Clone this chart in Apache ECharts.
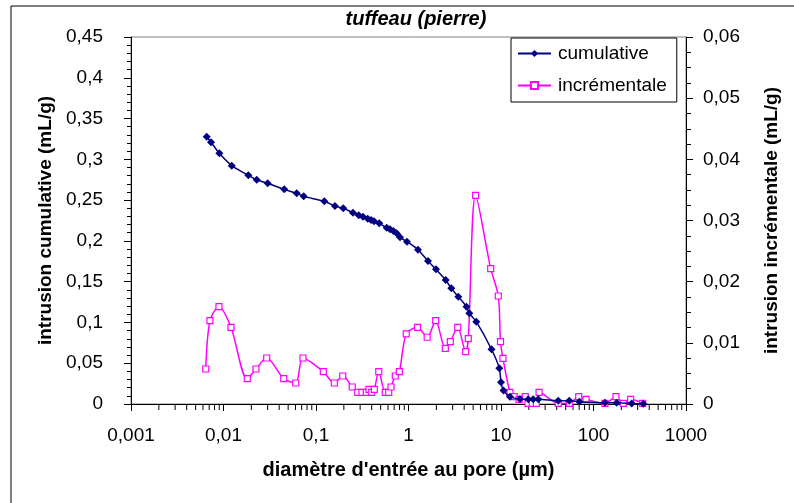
<!DOCTYPE html>
<html>
<head>
<meta charset="utf-8">
<script src="https://cdn.jsdelivr.net/npm/echarts@6/dist/echarts.min.js"></script>
<style>html,body{margin:0;padding:0;background:#fff;}#c{width:794px;height:503px;}</style>
</head>
<body>
<div id="c"></div>
<script>
// Diameters (µm) and cumulative intrusion (mL/g)
var cumDiam = [0.00658,0.00733,0.00902,0.01228,0.01854,0.02286,0.03006,0.04539,0.0618,0.0736,0.1230,0.1603,0.1972,0.251,0.290,0.322,0.362,0.394,0.424,0.483,0.581,0.631,0.686,0.745,0.809,0.964,1.267,1.625,1.983,2.523,2.902,3.453,4.236,4.543,5.41,7.89,9.59,10.0,10.64,12.5,16.0,19.7,22.3,25.3,41.6,54.7,70.2,133,178,259,345];
var cumVal = [0.3277,0.3209,0.3074,0.2922,0.2804,0.2750,0.2706,0.2632,0.2583,0.2546,0.2485,0.2427,0.2399,0.2345,0.2313,0.2296,0.2272,0.2256,0.2240,0.2215,0.2161,0.2142,0.2121,0.2093,0.2044,0.1990,0.1892,0.1753,0.1651,0.1520,0.1418,0.1316,0.1193,0.1112,0.1009,0.0671,0.0438,0.0266,0.0166,0.0090,0.0061,0.0058,0.0058,0.0058,0.0040,0.0040,0.0028,0.0016,0.0016,0.0005,0.0002];
// Diameters (µm) and incremental intrusion (mL/g)
var incDiam = [0.00643,0.00714,0.00893,0.01205,0.01807,0.02244,0.02931,0.04477,0.0604,0.0723,0.1200,0.1578,0.1946,0.2466,0.2825,0.314,0.350,0.374,0.400,0.427,0.477,0.561,0.611,0.647,0.720,0.796,0.946,1.250,1.592,1.967,2.500,2.832,3.404,4.153,4.43,5.32,7.74,9.35,9.88,10.5,12.5,13.9,15.7,18.3,19.6,21.8,24.1,25.8,41.6,54.7,69.2,83.0,133,175,210,252,340];
var incVal = [0.00572,0.01362,0.01591,0.01254,0.00414,0.00572,0.00752,0.00414,0.00343,0.00752,0.00528,0.00343,0.00458,0.00278,0.00191,0.00191,0.00191,0.0024,0.00191,0.0024,0.00528,0.00191,0.00191,0.00278,0.00458,0.00528,0.01145,0.01254,0.01091,0.01362,0.00911,0.01019,0.01254,0.00855,0.01068,0.03412,0.02212,0.01766,0.01019,0.00747,0.00191,0.00119,0.00077,0.00119,0.0001,0.0001,0.0001,0.00191,0.0001,0.0001,0.00119,0.00077,0.0001,0.00119,0.0001,0.00077,0.0001];
// Minor tick positions on the log x axis
var xMinorTicks = [];
[0.001,0.01,0.1,1,10,100].forEach(function(b){for(var k=2;k<=9;k++){xMinorTicks.push(+(b*k).toPrecision(6));}});

var titleText = 'tuffeau (pierre)';
var xName = "diamètre d'entrée au pore (µm)";
var yLeftName = 'intrusion cumulative (mL/g)';
var yRightName = 'intrusion incrémentale (mL/g)';
var seriesNames = ['cumulative','incrémentale'];

function fmt(v){ return String(+Number(v).toPrecision(6)).replace('.', ','); }
function pairs(a,b){ return a.map(function(x,i){return [x,b[i]];}); }

var FONT = 'Liberation Sans, Arial, sans-serif';
var chart = echarts.init(document.getElementById('c'), null, {renderer:'canvas'});
chart.setOption({
  animation:false,
  backgroundColor:'#fff',
  title:{text:titleText,left:411,textAlign:'center',top:4,textStyle:{fontFamily:FONT,fontSize:20,fontWeight:'bold',fontStyle:'italic',color:'#000'}},
  grid:{left:131,right:108,top:37,bottom:99,show:true,borderColor:'#808080',borderWidth:1,backgroundColor:'#fff'},
  legend:{
    data:seriesNames,orient:'vertical',left:511,top:38,
    backgroundColor:'#fff',borderColor:'#000',borderWidth:1,borderRadius:0,
    padding:[6,10,7,6],itemWidth:33,itemHeight:9,itemGap:13,
    textStyle:{fontFamily:FONT,fontSize:19,color:'#000',padding:[0,0,0,2]}
  },
  xAxis:{
    type:'log',logBase:10,min:0.001,max:1000,
    name:xName,nameLocation:'middle',nameGap:56,
    nameTextStyle:{fontFamily:FONT,fontSize:20,fontWeight:'bold',color:'#000'},
    axisLine:{lineStyle:{color:'#000',width:1}},
    axisTick:{show:true,length:7,lineStyle:{color:'#000'}},
    axisLabel:{fontFamily:FONT,fontSize:19,color:'#000',margin:22,formatter:fmt},
    splitLine:{show:false}
  },
  yAxis:[{
    type:'value',min:0,max:0.45,interval:0.05,position:'left',
    name:yLeftName,nameLocation:'middle',nameGap:76,
    nameTextStyle:{fontFamily:FONT,fontSize:19,fontWeight:'bold',color:'#000'},
    axisLine:{show:true,lineStyle:{color:'#000'}},
    axisTick:{show:true,length:7,lineStyle:{color:'#000'}},
    minorTick:{show:true,splitNumber:5,length:4,lineStyle:{color:'#000'}},
    axisLabel:{fontFamily:FONT,fontSize:19,color:'#000',margin:28,formatter:fmt},
    splitLine:{show:false}
  },{
    type:'value',min:0,max:0.06,interval:0.01,position:'right',
    name:yRightName,nameLocation:'middle',nameGap:76,
    nameTextStyle:{fontFamily:FONT,fontSize:19,fontWeight:'bold',color:'#000'},
    axisLine:{show:true,lineStyle:{color:'#000'}},
    axisTick:{show:true,length:7,lineStyle:{color:'#000'}},
    minorTick:{show:true,splitNumber:4,length:5,lineStyle:{color:'#000'}},
    axisLabel:{fontFamily:FONT,fontSize:19,color:'#000',margin:17,formatter:fmt},
    splitLine:{show:false}
  }],
  graphic:[{type:'rect',shape:{x:11,y:6,width:800,height:520},style:{fill:'none',stroke:'#000',lineWidth:1},silent:true,z:-1}],
  series:[{
    name:seriesNames[0],type:'line',yAxisIndex:0,data:pairs(cumDiam,cumVal),
    smooth:0.3,symbol:'diamond',symbolSize:8,
    lineStyle:{color:'#000080',width:1.5},itemStyle:{color:'#000080'},z:3
  },{
    name:seriesNames[1],type:'line',yAxisIndex:1,data:pairs(incDiam,incVal),
    smooth:0.3,symbol:'rect',symbolSize:6,
    lineStyle:{color:'#FF00FF',width:1.5},itemStyle:{color:'#fff',borderColor:'#FF00FF',borderWidth:1.2},z:2
  },{
    name:'minorx',type:'custom',yAxisIndex:0,data:xMinorTicks.map(function(v){return [v,0];}),
    clip:false,silent:true,
    renderItem:function(params,api){
      var p=api.coord([api.value(0),0]);
      return {type:'line',shape:{x1:p[0],y1:p[1],x2:p[0],y2:p[1]+6},style:{stroke:'#000',lineWidth:1}};
    }
  }]
});
</script>
</body>
</html>
